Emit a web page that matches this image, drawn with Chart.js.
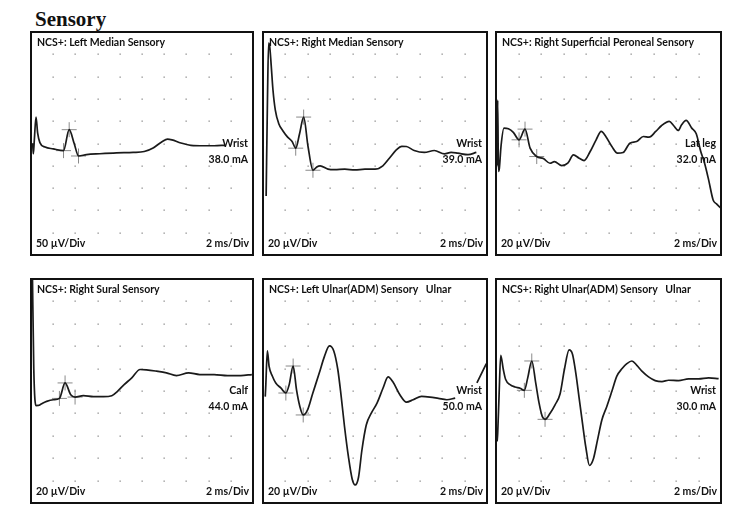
<!DOCTYPE html>
<html>
<head>
<meta charset="utf-8">
<script src="https://cdn.jsdelivr.net/npm/chart.js@4/dist/chart.umd.min.js"></script>
<style>
    body { margin: 0; background: #fff; }
    #page { position: relative; width: 750px; height: 512px; background: #fff; overflow: hidden; }
    #page h1 { position: absolute; left: 35px; top: 9px; margin: 0; font: bold 21px/20px "Liberation Serif", "Times New Roman", serif; color: #111; }
    #page canvas { position: absolute; }
</style>
</head>
<body>
<div id="page"><h1>Sensory</h1></div>
<script>
// 面板文字
const titles = [
    'NCS+: Left Median Sensory',
    'NCS+: Right Median Sensory',
    'NCS+: Right Superficial Peroneal Sensory',
    'NCS+: Right Sural Sensory',
    'NCS+: Left Ulnar(ADM) Sensory   Ulnar',
    'NCS+: Right Ulnar(ADM) Sensory   Ulnar'
]
const sites = ['Wrist', 'Wrist', 'Lat leg', 'Calf', 'Wrist', 'Wrist']
const currents = ['38.0 mA', '39.0 mA', '32.0 mA', '44.0 mA', '50.0 mA', '30.0 mA']
const gains = [50, 20, 20, 20, 20, 20] // µV/Div
const sweep = 2 // ms/Div

// 波形 [ms, µV]
const leftMedianTrace = [[0.1, 0], [0.15, -2], [0.21, -23], [0.3, 8], [0.45, 59], [0.6, 23], [0.8, 2], [1.27, -8], [2.0, -12],
    [2.93, -16], [3.44, 31], [3.89, 0], [4.28, -28], [5.0, -25], [6.2, -23], [7.7, -21], [9.2, -20], [10.2, -18], [11.0, -10],
    [11.8, 4], [12.3, 9.7], [12.7, 8], [13.5, 1], [14.4, -4], [15.6, -5], [16.5, -5], [17.5, -4]]
const rightMedianTrace = [[0.28, -47], [0.4, 40], [0.5, 90], [0.6, 87], [0.74, 69], [0.89, 48], [1.1, 30], [1.4, 18], [1.8, 11],
    [2.2, 5.7], [2.6, 1.8], [2.92, -4.2], [3.27, 9], [3.63, 23.7], [4.02, -2.7], [4.46, -24], [4.8, -21], [5.1, -20], [5.8, -23],
    [6.4, -23.5], [7.3, -23], [8.2, -23.7], [9.1, -23], [10.0, -23], [10.7, -20], [11.3, -13], [11.9, -5.7], [12.4, -2.5],
    [12.8, -2.7], [13.5, -6.3], [14.4, -8], [15.3, -6.3], [16.2, -9.3], [16.8, -8], [17.4, -8.7], [18.3, -10], [19.05, -8]]
const peronealTrace = [[0.05, 30], [0.1, -20], [0.15, 39], [0.22, -25], [0.3, -22], [0.45, -2], [0.71, 13.8], [1.1, 13.2],
    [1.54, 10], [2.05, 3.3], [2.58, 12.9], [3.03, -4.2], [3.62, -11.7], [4.21, -13.5], [4.8, -17.7], [5.19, -16.2], [5.85, -19.8],
    [6.38, -17.7], [6.88, -10.2], [7.39, -13.2], [7.83, -15.3], [8.37, -7.2], [8.9, 3.3], [9.35, 10.8], [9.76, 6.3], [10.3, -2.7],
    [10.8, -8.7], [11.3, -8.1], [11.9, 0.3], [12.5, 1.8], [13.1, 6.3], [13.6, 5.7], [14.2, 10.8], [14.7, 15.9], [15.4, 19.8],
    [15.8, 15.9], [16.2, 11.7], [16.5, 16.8], [16.9, 20.7], [17.4, 13.8], [17.8, 8.7], [18.2, -7.2], [18.5, -16.2], [18.9, -32.6],
    [19.3, -50.6], [19.6, -54.2], [20, -58]]
const suralTrace = [[0.12, 110], [0.25, 20], [0.45, -13], [0.66, -12.9], [0.96, -11.4], [1.41, -9.3], [2.02, -7.8], [2.56, -6.6],
    [3.07, 7.2], [3.58, -3.3], [3.97, -5.4], [4.72, -4.2], [5.62, -5.1], [6.53, -5.1], [7.28, -4.2], [7.79, -0.3], [8.39, 5.7],
    [9.08, 11.7], [9.83, 19.2], [10.4, 18.9], [11.3, 17.7], [12.2, 16.2], [13.1, 13.8], [14.2, 16.2], [15.2, 14.7], [16.5, 14.7],
    [17.7, 13.8], [18.9, 13.8], [19.9, 14.7]]
const leftUlnarTrace = [[0.2, -5], [0.24, 2.7], [0.39, 35.8], [0.54, 22.3], [0.84, 13.2], [1.14, 7.2], [1.59, 2.7], [2.04, -1.8],
    [2.34, 5.7], [2.69, 22.3], [2.99, 1.2], [3.29, -13.8], [3.59, -21.4], [3.98, -16.8], [4.43, -2.4], [5.03, 16.2], [5.48, 30.7],
    [5.93, 40.3], [6.32, 35.8], [6.68, 19.2], [6.98, -4.8], [7.28, -31.9], [7.63, -58.9], [7.96, -78.5], [8.23, -83.9], [8.53, -77],
    [8.83, -52.9], [9.22, -30.4], [9.67, -19.8], [10.18, -10.8], [10.72, 2.7], [11.17, 12.6], [11.62, 7.8], [12.22, -3.3],
    [12.81, -9.9], [13.41, -7.8], [14.16, -4.8], [14.91, -5.4], [15.66, -6.6], [16.41, -7.8], [17.16, -6.3], [17.6, null],
    [19.1, 7.2], [19.94, 24.4]]
const rightUlnarTrace = [[0.1, -45], [0.15, -37.9], [0.27, -4.8], [0.42, 31.9], [0.65, 19.2], [0.86, 10.2], [1.25, 5.7], [1.69, 3.6],
    [2.14, 2.4], [2.52, 0.6], [2.82, 11.7], [3.18, 26.8], [3.53, 7.2], [3.83, -10.8], [4.12, -22.9], [4.36, -25.3], [4.81, -19.8],
    [5.25, -12.3], [5.7, -2.4], [6.08, 19.2], [6.5, 36.7], [6.8, 32.8], [7.09, 16.2], [7.39, -6.3], [7.69, -28.9], [7.98, -49.9],
    [8.31, -66.5], [8.66, -60.5], [9.02, -43.9], [9.41, -25.9], [9.85, -13.8], [10.3, -0.3], [10.74, 13.2], [11.19, 19.8],
    [11.63, 24.4], [12.08, 26.8], [12.52, 22.9], [12.97, 17.7], [13.56, 12.6], [14.15, 9.3], [14.75, 8.4], [15.34, 9.6],
    [16.23, 9.3], [17.12, 10.8], [18.01, 10.8], [18.9, 11.7], [19.79, 11.1]]

// 光标 (起点 / 峰值 / 谷值)
const leftMedianCursors = [[2.93, -16], [3.44, 31], [4.28, -28]]
const rightMedianCursors = [[2.92, -4.2], [3.63, 23.7], [4.46, -24]]
const peronealCursors = [[2.05, 3.3], [2.58, 12.9], [3.62, -11.7]]
const suralCursors = [[2.56, -6.6], [3.07, 7.2], [3.97, -5.4]]
const leftUlnarCursors = [[2.04, -1.8], [2.69, 22.3], [3.59, -21.4]]
const rightUlnarCursors = [[2.52, 0.6], [3.18, 26.8], [4.36, -25.3]]

const traces = [leftMedianTrace, rightMedianTrace, peronealTrace, suralTrace, leftUlnarTrace, rightUlnarTrace]
const cursors = [leftMedianCursors, rightMedianCursors, peronealCursors, suralCursors, leftUlnarCursors, rightUlnarCursors]

// 面板位置 [left, top, width, height]
const boxes = [
    [31, 32, 222, 223], [263, 32, 224, 223], [496, 32, 225, 223],
    [31, 279, 222, 224], [263, 279, 224, 224], [496, 279, 225, 224]
]
const PAD = 2
const FONT = 'Lato, "Open Sans", sans-serif'

const panelDecor = {
    id: 'panelDecor',
    beforeDatasetsDraw(chart) { // 点阵网格
        const {ctx} = chart, x = chart.scales.x, y = chart.scales.y
        ctx.save()
        ctx.fillStyle = '#8c8c8c'
        for (let i = 1; i < 10; i++) {
            const px = Math.round(x.getPixelForValue(x.min + i * (x.max - x.min) / 10))
            for (let j = 1; j < 10; j++) {
                const py = Math.round(y.getPixelForValue(y.min + j * (y.max - y.min) / 10))
                ctx.fillRect(px - 0.5, py - 0.5, 1.3, 1.3)
            }
        }
        ctx.restore()
    },
    afterDraw(chart, args, opts) { // 边框 + 文字
        const {ctx, chartArea: a} = chart
        const midY = chart.scales.y.getPixelForValue(0)
        ctx.save()
        ctx.strokeStyle = '#111'
        ctx.lineWidth = 2
        ctx.strokeRect(a.left, a.top, a.width, a.height)

        ctx.fillStyle = '#111'
        ctx.font = 'bold 10.5px ' + FONT
        ctx.textBaseline = 'middle'
        ctx.textAlign = 'left'
        ctx.fillText(opts.title, a.left + 6, a.top + 11)
        ctx.fillText(opts.gain + ' µV/Div', a.left + 5, a.bottom - 11)
        ctx.textAlign = 'right'
        ctx.fillText(sweep + ' ms/Div', a.right - 4, a.bottom - 11)
        ctx.fillText(opts.site, a.right - 5, midY)
        ctx.fillText(opts.current, a.right - 5, midY + 16)
        ctx.restore()
    }
}

const page = document.getElementById('page')

for (let i = 0; i < traces.length; i++) {
    const [left, top, w, h] = boxes[i]
    const canvas = document.createElement('canvas')
    canvas.width = w + PAD * 2
    canvas.height = h + PAD * 2
    canvas.style.left = (left - PAD) + 'px'
    canvas.style.top = (top - PAD) + 'px'
    canvas.style.width = canvas.width + 'px'
    canvas.style.height = canvas.height + 'px'
    page.appendChild(canvas)

    new Chart(canvas, {
        type: 'line',
        data: {
            datasets: [{
                data: traces[i].map(p => ({x: p[0], y: p[1]})),
                borderColor: '#1a1a1a',
                borderWidth: 1.7,
                pointRadius: 0,
                cubicInterpolationMode: 'monotone',
                spanGaps: false
            }, {
                data: cursors[i].map(p => ({x: p[0], y: p[1]})),
                showLine: false,
                pointStyle: 'cross',
                pointRadius: 7.5,
                borderColor: '#8a8a8a',
                borderWidth: 1
            }]
        },
        options: {
            responsive: false,
            animation: false,
            devicePixelRatio: 1,
            events: [],
            layout: {padding: PAD, autoPadding: false},
            scales: {
                x: {type: 'linear', min: 0, max: 10 * sweep, display: false},
                y: {type: 'linear', min: -5 * gains[i], max: 5 * gains[i], display: false}
            },
            plugins: {
                legend: {display: false},
                tooltip: {enabled: false},
                panelDecor: {title: titles[i], site: sites[i], current: currents[i], gain: gains[i]}
            }
        },
        plugins: [panelDecor]
    })
}
</script>
</body>
</html>
